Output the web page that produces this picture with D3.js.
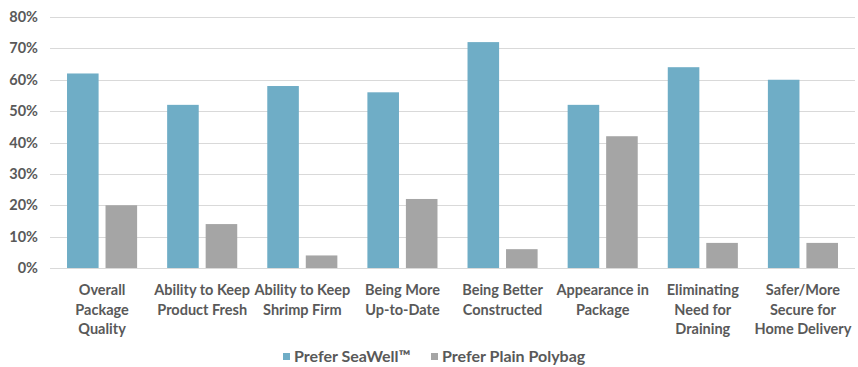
<!doctype html>
<html>
<head>
<style>
  body { margin: 0; background: #fff; }
</style>
</head>
<body>
<svg width="858" height="367" font-family="Lato, 'Open Sans', sans-serif"></svg>
<script src="https://d3js.org/d3.v7.min.js"></script>
<script>
  // data
  const categories = [
    ["Overall", "Package", "Quality"],
    ["Ability to Keep", "Product Fresh"],
    ["Ability to Keep", "Shrimp Firm"],
    ["Being More", "Up-to-Date"],
    ["Being Better", "Constructed"],
    ["Appearance in", "Package"],
    ["Eliminating", "Need for", "Draining"],
    ["Safer/More", "Secure for", "Home Delivery"]
  ];
  const seaWell = [62, 52, 58, 56, 72, 52, 64, 60];
  const polybag = [20, 14, 4, 22, 6, 42, 8, 8];
  const seriesNames = ["Prefer SeaWell\u2122", "Prefer Plain Polybag"];
  const colors = ["#6fadc6", "#a5a5a5"];
  const yTicks = [0, 10, 20, 30, 40, 50, 60, 70, 80];

  let svg = d3.select("svg"),
    margin = {top: 17, right: 3, bottom: 99, left: 50},
    width = +svg.attr("width") - margin.left - margin.right,
    height = +svg.attr("height") - margin.top - margin.bottom;

  let g = svg.append("g").attr("transform", `translate(${margin.left},${margin.top})`);

  let x = d3.scaleBand()
    .domain(d3.range(categories.length))
    .range([0, width])
    .paddingInner(0.3)
    .paddingOuter(0.17);

  let x1 = d3.scaleBand()
    .domain([0, 1])
    .range([0, x.bandwidth()])
    .paddingInner(0.18);

  let y = d3.scaleLinear().domain([0, 80]).range([height, 0]);

  // gridlines
  g.append("g")
    .selectAll("line")
    .data(yTicks)
    .join("line")
    .attr("x1", 0)
    .attr("x2", width)
    .attr("y1", d => Math.round(y(d)) + 0.5)
    .attr("y2", d => Math.round(y(d)) + 0.5)
    .attr("stroke", "#d9d9d9")
    .attr("stroke-width", 1);

  // y labels
  g.append("g")
    .selectAll("text")
    .data(yTicks)
    .join("text")
    .attr("x", -12)
    .attr("y", d => y(d))
    .attr("dy", "0.35em")
    .attr("text-anchor", "end")
    .attr("font-size", 14.5)
    .attr("font-weight", "bold")
    .attr("fill", "#595959")
    .text(d => d + "%");

  // bars
  const series = [seaWell, polybag];
  series.forEach((vals, s) => {
    g.append("g")
      .selectAll("rect")
      .data(vals)
      .join("rect")
      .attr("x", (d, i) => x(i) + x1(s))
      .attr("y", d => y(d))
      .attr("width", x1.bandwidth())
      .attr("height", d => y(0) - y(d))
      .attr("fill", colors[s]);
  });

  // category labels
  let lab = g.append("g")
    .selectAll("text")
    .data(categories)
    .join("text")
    .attr("x", (d, i) => x(i) + x.bandwidth() / 2)
    .attr("y", height + 27)
    .attr("text-anchor", "middle")
    .attr("font-size", 14.5)
    .attr("font-weight", "bold")
    .attr("fill", "#595959");

  lab.selectAll("tspan")
    .data(d => d)
    .join("tspan")
    .attr("x", function() { return this.parentNode.getAttribute("x"); })
    .attr("dy", (d, i) => i === 0 ? 0 : 19.5)
    .text(d => d);

  // legend
  let legend = svg.append("g").attr("transform", "translate(283,356)");
  const legendX = [0, 148];
  seriesNames.forEach((name, s) => {
    let item = legend.append("g").attr("transform", `translate(${legendX[s]},0)`);
    item.append("rect")
      .attr("x", 0).attr("y", -3)
      .attr("width", 7).attr("height", 7)
      .attr("fill", colors[s]);
    item.append("text")
      .attr("x", 11)
      .attr("dy", "0.35em")
      .attr("font-size", 16)
      .attr("font-weight", "bold")
      .attr("fill", "#595959")
      .text(name);
  });
</script>
</body>
</html>
